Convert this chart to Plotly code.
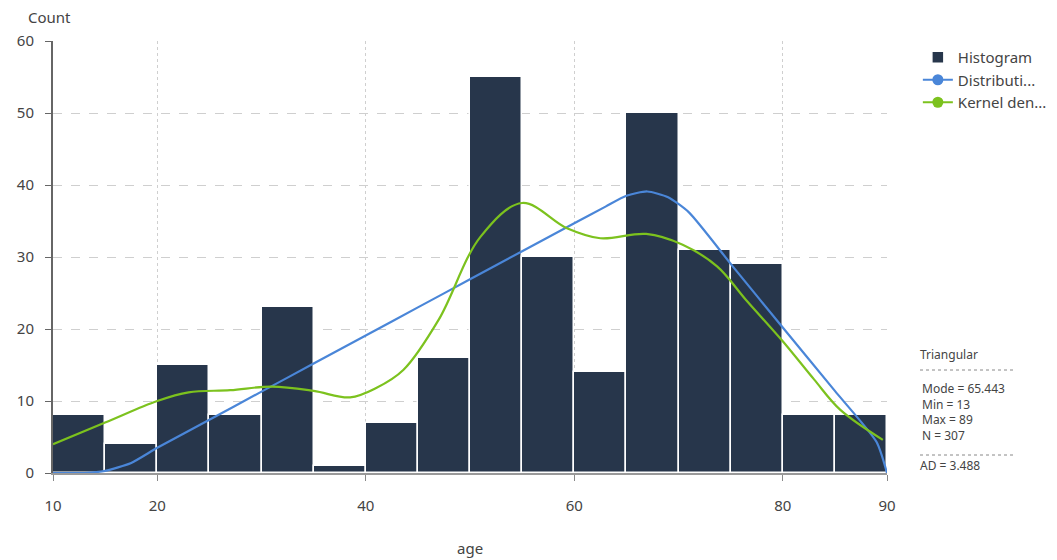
import plotly.graph_objects as go

# Histogram of age (bin width 5, from 10 to 90)
bin_left = [10, 15, 20, 25, 30, 35, 40, 45, 50, 55, 60, 65, 70, 75, 80, 85]
counts = [8, 4, 15, 8, 23, 1, 7, 16, 55, 30, 14, 50, 31, 29, 8, 8]
bin_width = 5

# Fitted triangular distribution, scaled to counts
dist_x = [10, 13, 15, 17.5, 20, 25, 30, 35, 40, 45, 50, 55, 60, 63, 65, 67, 69, 71, 75.2, 80, 85, 89, 90]
dist_y = [0, 0, 0.3, 1.4, 3.5, 7.4, 11.3, 15.2, 19.1, 23.0, 26.9, 30.8, 34.7, 37.0, 38.5, 39.1, 38.3, 36.2, 28.7, 20.2, 11.4, 4.3, 0]

# Kernel density estimate, scaled to counts
kde_x = [10, 15, 20, 23, 27, 31, 35, 38.5, 41, 43.6, 47, 51, 55, 59.3, 62.5, 66.9, 70.4, 73.7, 76.5, 80, 83, 85.5, 89.6]
kde_y = [4.0, 7.0, 10.0, 11.2, 11.5, 12.0, 11.4, 10.5, 11.8, 14.3, 21.3, 32.8, 37.5, 34.0, 32.6, 33.2, 31.7, 28.7, 24.0, 18.3, 13.0, 8.8, 4.6]

x_ticks = [10, 20, 40, 60, 80, 90]
y_ticks = [0, 10, 20, 30, 40, 50, 60]

stats_title = "Triangular"
stats_lines = ["Mode = 65.443", "Min = 13", "Max = 89", "N = 307"]
stats_ad = "AD = 3.488"

BAR = "#27364b"
BLUE = "#4a86d8"
GREEN = "#7cc21e"
FONT = "Noto Sans"
TXT = "#444"

fig = go.Figure()

fig.add_trace(go.Bar(
    x=[b + bin_width / 2 for b in bin_left], y=counts, width=bin_width,
    marker=dict(color=BAR, line=dict(color="white", width=1.5)),
    name="Histogram", showlegend=True,
))
fig.add_trace(go.Scatter(
    x=dist_x, y=dist_y, mode="lines", line=dict(color=BLUE, width=2.2, shape="spline", smoothing=0.6),
    showlegend=False, hoverinfo="skip",
))
fig.add_trace(go.Scatter(
    x=kde_x, y=kde_y, mode="lines", line=dict(color=GREEN, width=2.2, shape="spline", smoothing=1.0),
    showlegend=False, hoverinfo="skip",
))
# Legend entries with line + dot symbols
fig.add_trace(go.Scatter(
    x=[None], y=[None], mode="lines+markers", name="Distributi...",
    line=dict(color=BLUE, width=2.2), marker=dict(color=BLUE, size=11),
))
fig.add_trace(go.Scatter(
    x=[None], y=[None], mode="lines+markers", name="Kernel den...",
    line=dict(color=GREEN, width=2.2), marker=dict(color=GREEN, size=11),
))

fig.update_layout(
    width=1057, height=560,
    margin=dict(l=53, r=170, t=41, b=87, autoexpand=False),
    plot_bgcolor="white", paper_bgcolor="white",
    font=dict(family=FONT, size=15, color=TXT),
    bargap=0,
    legend=dict(x=1.037, y=1.0, xanchor="left", yanchor="top",
                font=dict(size=15, color=TXT), itemwidth=30, tracegroupgap=2),
    xaxis=dict(
        range=[10, 90], tickvals=x_ticks, ticktext=[str(v) for v in x_ticks],
        showline=True, linecolor="#999", linewidth=1.5,
        ticks="outside", ticklen=6, tickcolor="#888",
        showgrid=True, gridcolor="#cfcfcf", griddash="dot", gridwidth=1,
        zeroline=False, ticklabelstandoff=12,
        tickfont=dict(size=15, color=TXT),
    ),
    yaxis=dict(
        range=[0, 60], tickvals=y_ticks,
        showline=True, linecolor="#666", linewidth=2,
        ticks="outside", ticklen=6, tickcolor="#666",
        showgrid=True, gridcolor="#cfcfcf", griddash="dash", gridwidth=1,
        zeroline=False, ticklabelstandoff=8, tickfont=dict(size=15, color=TXT),
    ),
)

# Axis titles
fig.add_annotation(text="Count", xref="paper", yref="paper", x=-0.032, y=(473 - 17) / 432,
                   xanchor="left", yanchor="middle", showarrow=False,
                   font=dict(size=15, color=TXT))
fig.add_annotation(text="age", xref="paper", yref="paper", x=0.5, y=-(548 - 473) / 432,
                   xanchor="center", yanchor="middle", showarrow=False,
                   font=dict(size=15, color=TXT))

# Fit statistics box
px_x = lambda p: (p - 53) / (887 - 53)
px_y = lambda p: (473 - p) / (473 - 41)
fig.add_annotation(text=stats_title, xref="paper", yref="paper", x=px_x(918), y=px_y(354),
                   xanchor="left", yanchor="middle", showarrow=False,
                   font=dict(size=12, color=TXT))
fig.add_annotation(text="<br>".join(stats_lines), xref="paper", yref="paper",
                   x=px_x(920), y=px_y(412), xanchor="left", yanchor="middle",
                   showarrow=False, align="left",
                   font=dict(size=12, color=TXT))
fig.add_annotation(text=stats_ad, xref="paper", yref="paper", x=px_x(918), y=px_y(465),
                   xanchor="left", yanchor="middle", showarrow=False,
                   font=dict(size=12, color=TXT))
for yp in (370, 455):
    fig.add_shape(type="line", xref="paper", yref="paper",
                  x0=px_x(920), x1=px_x(1013), y0=px_y(yp), y1=px_y(yp),
                  line=dict(color="#888", width=1, dash="dot"))

fig.write_html("out.html")
